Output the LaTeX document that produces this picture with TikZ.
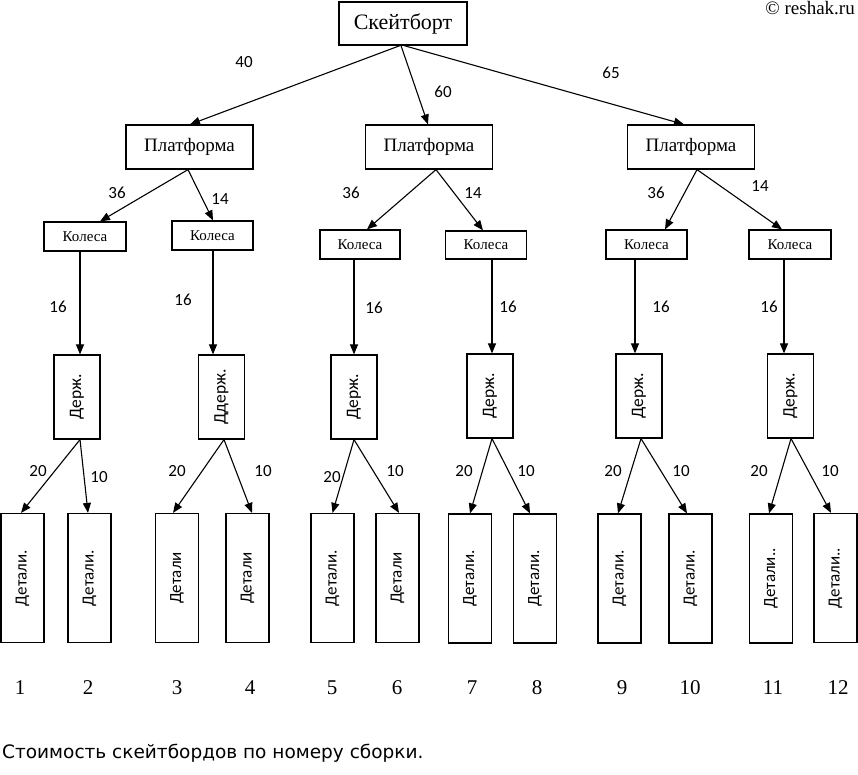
\documentclass[tikz,border=0pt]{standalone}
\usepackage{fontspec}
\usepackage{graphicx}
\setmainfont{Liberation Serif}
\newfontfamily\calfont{Carlito}
\newfontfamily\capfont{DejaVu Sans}
\usetikzlibrary{arrows.meta,calc}
\tikzset{
  bx/.style={draw=black,line width=1.2pt,inner sep=0pt,fill=white},
  topbox/.style={bx,minimum width=128pt,minimum height=43pt,font=\fontsize{22}{22}\selectfont},
  platbox/.style={bx,minimum width=127pt,minimum height=44pt,font=\fontsize{19}{19}\selectfont},
  whbox/.style={bx,minimum width=81pt,minimum height=29pt,font=\fontsize{15}{15}\selectfont},
  holdbox/.style={bx,minimum width=46pt,minimum height=84pt,font=\calfont\fontsize{17.5}{17.5}\selectfont},
  partbox/.style={bx,minimum width=43pt,minimum height=129pt,font=\calfont\fontsize{17}{17}\selectfont},
  arr/.style={line width=1.1pt,-{Triangle[length=10pt,width=8pt]}},
  lab/.style={font=\calfont\fontsize{17}{17}\selectfont,inner sep=0pt},
  idx/.style={font=\fontsize{21}{21}\selectfont,inner sep=0pt},
}
\begin{document}
\begin{tikzpicture}[x=1pt,y=-1pt]
\useasboundingbox (0,0) rectangle (858,774);
\node[anchor=north east,inner sep=0pt,font=\fontsize{19}{19}\selectfont] (copy) at (855,1) {© reshak.ru};
% boxes
\node[topbox] (sk) at (403,23.5) {Скейтборт};
\node[platbox] (p1) at (189.5,147) {Платформа};
\node[platbox] (p2) at (429,147) {Платформа};
\node[platbox] (p3) at (691,147) {Платформа};
\node[whbox,minimum width=82pt] (k1) at (85,236.5) {Колеса};
\node[whbox] (k2) at (212.5,235.5) {Колеса};
\node[whbox,minimum width=80pt] (k3) at (360,244.5) {Колеса};
\node[whbox,minimum height=28pt] (k4) at (486,245) {Колеса};
\node[whbox] (k5) at (646.5,244.5) {Колеса};
\node[whbox,minimum width=82pt] (k6) at (790,244.5) {Колеса};
\node[holdbox] (d1) at (77,397) {\rotatebox{90}{Держ.}};
\node[holdbox] (d2) at (221.5,397) {\rotatebox{90}{Ддерж.}};
\node[holdbox] (d3) at (354,397) {\rotatebox{90}{Держ.}};
\node[holdbox] (d4) at (490,396) {\rotatebox{90}{Держ.}};
\node[holdbox] (d5) at (639,396) {\rotatebox{90}{Держ.}};
\node[holdbox] (d6) at (790.5,396) {\rotatebox{90}{Держ.}};
\node[partbox] (e1) at (22.5,578) {\rotatebox{90}{Детали.}};
\node[partbox] (e2) at (89.5,578) {\rotatebox{90}{Детали.}};
\node[partbox] (e3) at (177,578) {\rotatebox{90}{Детали}};
\node[partbox] (e4) at (247.5,578) {\rotatebox{90}{Детали}};
\node[partbox] (e5) at (332.5,578) {\rotatebox{90}{Детали.}};
\node[partbox] (e6) at (397.5,578) {\rotatebox{90}{Детали}};
\node[partbox] (e7) at (470,578.5) {\rotatebox{90}{Детали.}};
\node[partbox] (e8) at (535,578.5) {\rotatebox{90}{Детали.}};
\node[partbox] (e9) at (619.5,578.5) {\rotatebox{90}{Детали.}};
\node[partbox] (e10) at (690.5,578.5) {\rotatebox{90}{Детали.}};
\node[partbox] (e11) at (771,578.5) {\rotatebox{90}{Детали..}};
\node[partbox] (e12) at (835.5,578) {\rotatebox{90}{Детали..}};
% arrows
\draw[arr] ($(sk.south)+(-3,0)$) -- ($(p1.north)+(0.5,0)$);
\draw[arr] ($(sk.south)+(-2,0)$) -- ($(p2.north)+(-1,0)$);
\draw[arr] ($(sk.south)+(1,0)$) -- ($(p3.north)+(-7,0)$);
\draw[arr] ($(p1.south)+(-1.5,0)$) -- ($(k1.north)+(15,0)$);
\draw[arr] ($(p1.south)+(-1.5,0)$) -- ($(k2.north)+(0.5,0)$);
\draw[arr] ($(p2.south)+(7,0)$) -- ($(k3.north)+(7,0)$);
\draw[arr] ($(p2.south)+(7,0)$) -- ($(k4.north)+(-3,0)$);
\draw[arr] ($(p3.south)+(6,0)$) -- ($(k5.north)+(18.5,0)$);
\draw[arr] ($(p3.south)+(6,0)$) -- ($(k6.north)+(-8,0)$);
\draw[arr] ($(k1.south)+(-5,0)$) -- ($(d1.north)+(3,0)$);
\draw[arr] ($(k2.south)+(0.5,0)$) -- ($(d2.north)+(-8.5,0)$);
\draw[arr] ($(k3.south)+(-6,0)$) -- ($(d3.north)+(0,0)$);
\draw[arr] ($(k4.south)+(6,0)$) -- ($(d4.north)+(2,0)$);
\draw[arr] ($(k5.south)+(-11.5,0)$) -- ($(d5.north)+(-4,0)$);
\draw[arr] ($(k6.south)+(-6,0)$) -- ($(d6.north)+(-6.5,0)$);
\draw[arr] ($(d1.south)+(3,0)$) -- ($(e1.north)+(-1.5,0)$);
\draw[arr] ($(d1.south)+(3,0)$) -- ($(e2.north)+(-1.5,0)$);
\draw[arr] ($(d2.south)+(2.5,0)$) -- ($(e3.north)+(-4,0)$);
\draw[arr] ($(d2.south)+(2.5,0)$) -- ($(e4.north)+(4.5,0)$);
\draw[arr] ($(d3.south)+(0,0)$) -- ($(e5.north)+(0,0)$);
\draw[arr] ($(d3.south)+(0,0)$) -- ($(e6.north)+(1.5,0)$);
\draw[arr] ($(d4.south)+(2,0)$) -- ($(e7.north)+(0,0)$);
\draw[arr] ($(d4.south)+(2,0)$) -- ($(e8.north)+(-5,0)$);
\draw[arr] ($(d5.south)+(2,0)$) -- ($(e9.north)+(-1.5,0)$);
\draw[arr] ($(d5.south)+(2,0)$) -- ($(e10.north)+(-3.5,0)$);
\draw[arr] ($(d6.south)+(0.5,0)$) -- ($(e11.north)+(-2,0)$);
\draw[arr] ($(d6.south)+(0.5,0)$) -- ($(e12.north)+(-4.5,0)$);
% edge labels
\node[lab] (l1) at (244,62) {40};
\node[lab] (l2) at (443,92) {60};
\node[lab] (l3) at (611,73) {65};
\node[lab] (l4) at (117,193) {36};
\node[lab] (l5) at (220,199) {14};
\node[lab] (l6) at (351,193) {36};
\node[lab] (l7) at (473,193) {14};
\node[lab] (l8) at (656,193) {36};
\node[lab] (l9) at (760,186) {14};
\node[lab] (m1) at (58,307) {16};
\node[lab] (m2) at (183,300) {16};
\node[lab] (m3) at (374,308) {16};
\node[lab] (m4) at (508,307) {16};
\node[lab] (m5) at (661,307) {16};
\node[lab] (m6) at (769,307) {16};
\node[lab] (n1) at (38,471) {20};
\node[lab] (n2) at (99,477) {10};
\node[lab] (n3) at (177,471) {20};
\node[lab] (n4) at (263,471) {10};
\node[lab] (n5) at (332,477) {20};
\node[lab] (n6) at (395,471) {10};
\node[lab] (n7) at (464,471) {20};
\node[lab] (n8) at (526,471) {10};
\node[lab] (n9) at (613,471) {20};
\node[lab] (n10) at (681,471) {10};
\node[lab] (n11) at (759,471) {20};
\node[lab] (n12) at (830,471) {10};
% assembly numbers
\node[idx] (i1) at (20,688) {1};
\node[idx] (i2) at (88,688) {2};
\node[idx] (i3) at (177,688) {3};
\node[idx] (i4) at (250,688) {4};
\node[idx] (i5) at (332,688) {5};
\node[idx] (i6) at (397,688) {6};
\node[idx] (i7) at (472,688) {7};
\node[idx] (i8) at (537,688) {8};
\node[idx] (i9) at (622,688) {9};
\node[idx] (i10) at (690,688) {10};
\node[idx] (i11) at (773,688) {11};
\node[idx] (i12) at (838,688) {12};
% caption
\node[anchor=base west,inner sep=0pt,font=\capfont\fontsize{18.5}{18.5}\selectfont] (cap) at (2,758) {Стоимость скейтбордов по номеру сборки.};
\end{tikzpicture}
\end{document}
